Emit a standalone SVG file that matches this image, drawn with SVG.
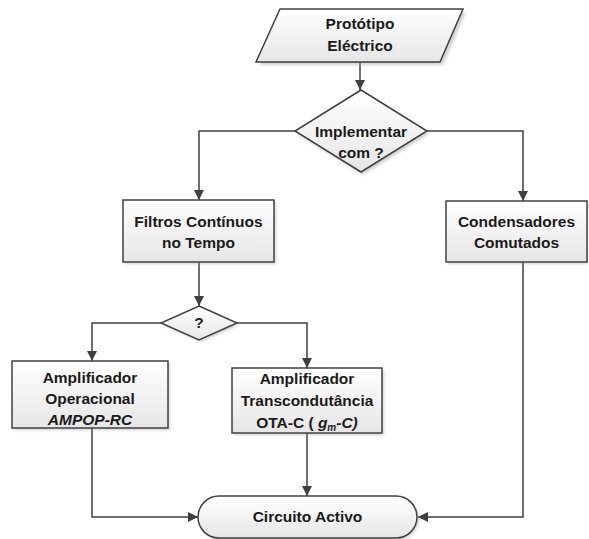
<svg xmlns="http://www.w3.org/2000/svg" width="589" height="539" viewBox="0 0 589 539">
<defs>
<linearGradient id="g" x1="0" y1="0" x2="0" y2="1">
<stop offset="0" stop-color="#ffffff"/>
<stop offset="1" stop-color="#e6e6e6"/>
</linearGradient>
<filter id="sh" x="-10%" y="-10%" width="130%" height="140%">
<feGaussianBlur stdDeviation="1.5"/>
</filter>
<marker id="ah" viewBox="0 0 10 10" refX="10" refY="5" markerWidth="10" markerHeight="10" markerUnits="userSpaceOnUse" orient="auto">
<path d="M0,0 L10,5 L0,10 Z" fill="#404040"/>
</marker>
</defs>
<style>
.n{fill:url(#g);stroke:#404040;stroke-width:1.5}
.s{fill:#9a9a9a;opacity:0.45;filter:url(#sh)}
.t{font-family:"Liberation Sans",Arial,sans-serif;font-weight:bold;font-size:15.5px;fill:#1a1a1a;text-anchor:middle}
.c{fill:none;stroke:#404040;stroke-width:1.5;marker-end:url(#ah)}
</style>
<rect width="589" height="539" fill="#ffffff"/>
<g id="connectors">
<path class="c" d="M360,62 L360,90"/>
<path class="c" d="M295,131 L199,131 L199,200"/>
<path class="c" d="M427,131 L523,131 L523,201"/>
<path class="c" d="M199,262 L199,306"/>
<path class="c" d="M161,323 L92,323 L92,361"/>
<path class="c" d="M237,323 L307,323 L307,368"/>
<path class="c" d="M92,428 L92,517 L198,517"/>
<path class="c" d="M307,433 L307,496"/>
<path class="c" d="M523,262 L523,517 L418,517"/>
</g>
<g id="prototipo">
<polygon class="s" points="283,12 466,12 443,65 259,65"/>
<polygon class="n" points="280,9 463,9 440,62 256,62"/>
<text class="t" x="360" y="29">Protótipo</text>
<text class="t" x="360" y="51">Eléctrico</text>
</g>
<g id="implementar">
<polygon class="s" points="363,93 429,134 363,175 297,134"/>
<polygon class="n" points="361,90 427,131 361,172 295,131"/>
<text class="t" x="361" y="137">Implementar</text>
<text class="t" x="361" y="158">com ?</text>
</g>
<g id="filtros">
<rect class="s" x="125" y="202" width="151" height="62"/>
<rect class="n" x="123" y="200" width="151" height="62"/>
<text class="t" x="198.5" y="227">Filtros Contínuos</text>
<text class="t" x="198.5" y="248">no Tempo</text>
</g>
<g id="condensadores">
<rect class="s" x="448" y="203" width="140" height="61"/>
<rect class="n" x="446" y="201" width="141" height="61"/>
<text class="t" x="516.5" y="227">Condensadores</text>
<text class="t" x="516.5" y="248">Comutados</text>
</g>
<g id="escolha">
<polygon class="s" points="201,308 239,325 201,342 163,325"/>
<polygon class="n" points="199,306 237,323 199,340 161,323"/>
<text class="t" x="199" y="328">?</text>
</g>
<g id="ampop">
<rect class="s" x="14" y="363" width="156" height="67"/>
<rect class="n" x="12" y="361" width="156" height="67"/>
<text class="t" x="90" y="383">Amplificador</text>
<text class="t" x="90" y="404">Operacional</text>
<text class="t" x="90" y="425" font-style="italic">AMPOP-RC</text>
</g>
<g id="ota">
<rect class="s" x="234" y="370" width="150" height="65"/>
<rect class="n" x="232" y="368" width="150" height="65"/>
<text class="t" x="307" y="384">Amplificador</text>
<text class="t" x="307" y="406">Transcondutância</text>
<text class="t" x="307" y="428">OTA-C ( <tspan font-style="italic">g</tspan><tspan font-style="italic" font-size="10px" dy="3">m</tspan><tspan font-style="italic" dy="-3">-C)</tspan></text>
</g>
<g id="circuito">
<rect class="s" x="200" y="498" width="219" height="42" rx="21"/>
<rect class="n" x="198" y="496" width="219" height="42" rx="21"/>
<text class="t" x="307.5" y="522">Circuito Activo</text>
</g>
</svg>
